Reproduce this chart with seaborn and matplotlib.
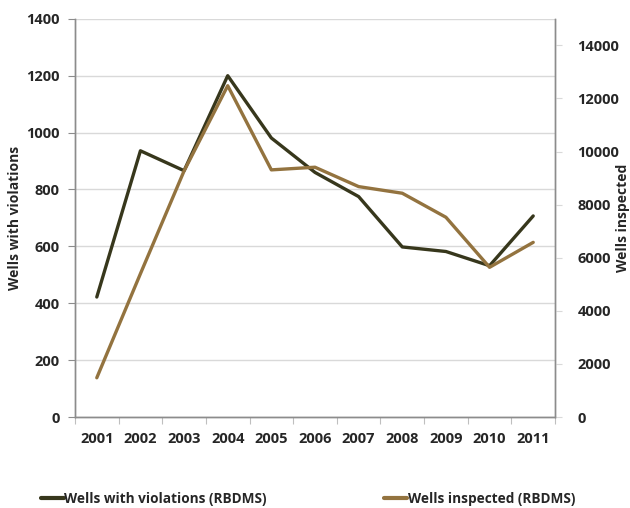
import seaborn as sns
import matplotlib.pyplot as plt
import pandas as pd
import numpy as np

years = ['2001', '2002', '2003', '2004', '2005', '2006', '2007', '2008', '2009', '2010', '2011']
violations = [422, 936, 866, 1200, 981, 860, 775, 598, 582, 532, 707]
inspected = [1480, 5400, 9270, 12480, 9310, 9410, 8680, 8430, 7525, 5640, 6580]

df = pd.DataFrame({'year': years, 'violations': violations, 'inspected': inspected})

sns.set_style('white')
plt.rcParams['font.family'] = ['Open Sans', 'DejaVu Sans']
plt.rcParams['font.weight'] = 'bold'

dark = '#37371c'
tan = '#93733f'
grey = '#8c8c8c'
fs_tick = 10.5
fs_lab = 10

fig = plt.figure(figsize=(6.3, 5.08), dpi=100)
ax = fig.add_axes([0.119, 0.179, 0.762, 0.784])
ax2 = ax.twinx()

sns.lineplot(data=df, x='year', y='violations', ax=ax, color=dark, lw=2.4, sort=False)
sns.lineplot(data=df, x='year', y='inspected', ax=ax2, color=tan, lw=2.4, sort=False)

ax.set_xlim(-0.5, len(years) - 0.5)
ax.set_ylim(0, 1400)
ax.set_yticks(range(0, 1401, 200))
ax2.set_ylim(0, 15000)
ax2.set_yticks(range(0, 14001, 2000))

# category ticks between labels, like Excel
ax.set_xticks(np.arange(-0.5, len(years), 1))
ax.set_xticklabels([])
ax.set_xticks(range(len(years)), minor=True)
ax.set_xticklabels(years, minor=True)
ax.tick_params(axis='x', which='major', length=5, color='#bfbfbf', direction='out', bottom=True)
ax.tick_params(axis='x', which='minor', length=0, pad=11, labelsize=fs_tick)
ax.tick_params(axis='y', length=5, color=grey, direction='out', left=True, labelsize=fs_tick, pad=6)
ax2.tick_params(axis='y', length=5, color='#d9d9d9', direction='out', right=True, labelsize=fs_tick, pad=11)

ax.yaxis.grid(True, color='#d9d9d9', lw=1)
ax.set_axisbelow(True)

for a in (ax, ax2):
    a.spines['top'].set_visible(False)
    for s in ('left', 'right', 'bottom'):
        a.spines[s].set_color(grey)
        a.spines[s].set_linewidth(1)

ax.set_xlabel('')
ax.set_ylabel('Wells with violations', fontsize=fs_lab, fontweight='bold')
ax2.set_ylabel('Wells inspected', fontsize=fs_lab, fontweight='bold')
ax.yaxis.set_label_coords(-0.11, 0.5)
ax2.yaxis.set_label_coords(1.128, 0.5)

for lbl in ax.get_xticklabels(minor=True) + ax.get_yticklabels() + ax2.get_yticklabels():
    lbl.set_fontweight('bold')

h1 = plt.Line2D([], [], color=dark, lw=3)
h2 = plt.Line2D([], [], color=tan, lw=3)
fig.legend([h1, h2], ['Wells with violations (RBDMS)', 'Wells inspected (RBDMS)'],
           loc='center left', bbox_to_anchor=(0.045, 0.018), ncol=2, frameon=False,
           handlelength=1.7, handletextpad=0.05, columnspacing=8.6,
           prop={'size': 9.8, 'weight': 'bold'})

plt.savefig('out.png', dpi=100)
